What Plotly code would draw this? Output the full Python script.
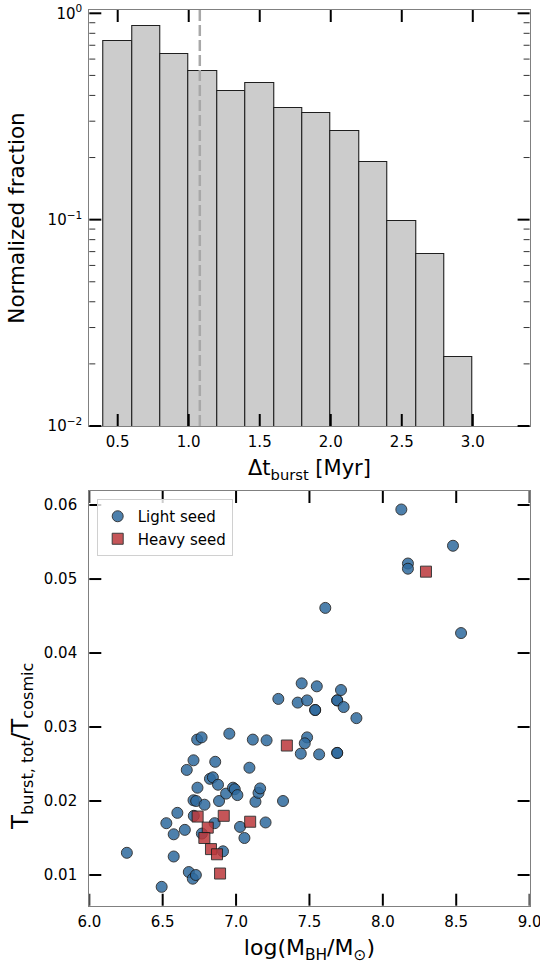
import math
import plotly.graph_objects as go

# ---------------- data ----------------
hist_centers = [0.5, 0.7, 0.9, 1.1, 1.3, 1.5, 1.7, 1.9, 2.1, 2.3, 2.5, 2.7, 2.9]
hist_fraction = [0.737, 0.868, 0.633, 0.527, 0.422, 0.458, 0.349, 0.328,
                 0.269, 0.190, 0.099, 0.068, 0.0217]
bin_width = 0.2
median_dt = 1.078

light_logM = [6.256, 6.493, 6.525, 6.575, 6.575, 6.600, 6.651, 6.664, 6.678, 6.705,
              6.726, 6.710, 6.735, 6.765, 6.710, 6.728, 6.737, 6.712, 6.785, 6.767,
              6.822, 6.842, 6.858, 6.877, 6.884, 6.854, 6.911, 6.932, 6.954, 6.979,
              6.991, 7.009, 7.027, 7.057, 7.091, 7.114, 7.132, 7.153, 7.164, 7.201,
              7.208, 7.288, 7.320, 7.420, 7.447, 7.484, 7.550, 7.539, 7.539, 7.484,
              7.468, 7.441, 7.566, 7.689, 7.689, 7.689, 7.689, 7.715, 7.733, 7.820,
              7.608, 8.126, 8.171, 8.171, 8.478, 8.533]
light_T = [0.0130, 0.0084, 0.0170, 0.0155, 0.0125, 0.0184, 0.0161, 0.0242, 0.0104, 0.0095,
           0.0100, 0.0255, 0.0283, 0.0286, 0.0201, 0.0200, 0.0218, 0.0180, 0.0195, 0.0156,
           0.0230, 0.0232, 0.0253, 0.0222, 0.0200, 0.0170, 0.0132, 0.0210, 0.0291, 0.0218,
           0.0216, 0.0208, 0.0165, 0.0150, 0.0245, 0.0283, 0.0199, 0.0211, 0.0217, 0.0171,
           0.0282, 0.0338, 0.0200, 0.0333, 0.0359, 0.0336, 0.0355, 0.0323, 0.0323, 0.0286,
           0.0278, 0.0264, 0.0263, 0.0265, 0.0265, 0.0336, 0.0336, 0.0350, 0.0327, 0.0312,
           0.0461, 0.0594, 0.0521, 0.0514, 0.0545, 0.0427]

heavy_logM = [6.738, 6.916, 6.807, 6.784, 6.829, 6.870, 7.096, 6.891, 7.346, 8.294]
heavy_T = [0.0179, 0.0180, 0.0164, 0.0150, 0.0135, 0.0128, 0.0172, 0.0102, 0.0275, 0.0510]

top_xticks = [0.5, 1.0, 1.5, 2.0, 2.5, 3.0]
top_yticks = [0.01, 0.1, 1.0]
top_yticktext = ["10<sup>\u22122</sup>", "10<sup>\u22121</sup>", "10<sup>0</sup>"]
top_yminor = [0.02, 0.03, 0.04, 0.05, 0.06, 0.07, 0.08, 0.09,
              0.2, 0.3, 0.4, 0.5, 0.6, 0.7, 0.8, 0.9]
bot_xticks = [6.0, 6.5, 7.0, 7.5, 8.0, 8.5, 9.0]
bot_yticks = [0.01, 0.02, 0.03, 0.04, 0.05, 0.06]

# ---------------- geometry ----------------
W, H = 540, 964
FONT = "DejaVu Sans"
X0, X1 = 89.3, 529.6
TOP_Y0, TOP_Y1 = 10, 426
BOT_Y0, BOT_Y1 = 491, 905.7
xdom = [X0 / W, X1 / W]
top_ydom = [1 - TOP_Y1 / H, 1 - TOP_Y0 / H]
bot_ydom = [1 - BOT_Y1 / H, 1 - BOT_Y0 / H]
top_xrange = [0.3, 3.4]
top_yrange = [-2, 0.016]   # log10 units
bot_xrange = [6.0, 9.0]
bot_yrange = [0.00585, 0.0619]

PLOT_W = X1 - X0
TOP_H = TOP_Y1 - TOP_Y0
BOT_H = BOT_Y1 - BOT_Y0
MAJ_LEN, MAJ_W = 12, 2
MIN_LEN, MIN_W = 6, 1

fig = go.Figure()

fig.add_trace(go.Bar(
    x=hist_centers, y=hist_fraction, width=bin_width,
    marker=dict(color="#cccccc", line=dict(color="#1f1f1f", width=1.1)),
    xaxis="x", yaxis="y", showlegend=False,
))
fig.add_trace(go.Scatter(
    x=light_logM, y=light_T, mode="markers", name="Light seed",
    marker=dict(symbol="circle", size=11, color="rgb(47,106,158)", opacity=0.85,
                line=dict(color="#1a1a1a", width=1)),
    xaxis="x2", yaxis="y2",
))
fig.add_trace(go.Scatter(
    x=heavy_logM, y=heavy_T, mode="markers", name="Heavy seed",
    marker=dict(symbol="square", size=11, color="rgb(188,56,59)", opacity=0.85,
                line=dict(color="#1a1a1a", width=1)),
    xaxis="x2", yaxis="y2",
))

fig.add_shape(type="line", xref="x", yref="y domain", x0=median_dt, x1=median_dt,
              y0=0, y1=1, line=dict(color="#a8a8a8", width=2.5, dash="11px,4px"),
              layer="above")


# ---- inward tick marks on all four sides, drawn as line shapes
def x_ticks(xref, yref_dom, vals, length_frac, width, color="black"):
    for v in vals:
        for a, b in ((0, length_frac), (1, 1 - length_frac)):
            fig.add_shape(type="line", xref=xref, yref=yref_dom, layer="above",
                          x0=v, x1=v, y0=a, y1=b,
                          line=dict(color=color, width=width))


def y_ticks(xref_dom, yref, vals, length_frac, width, color="black"):
    for v in vals:
        for a, b in ((0, length_frac), (1, 1 - length_frac)):
            fig.add_shape(type="line", xref=xref_dom, yref=yref, layer="above",
                          x0=a, x1=b, y0=v, y1=v,
                          line=dict(color=color, width=width))


def log_frac(v):
    return (math.log10(v) - top_yrange[0]) / (top_yrange[1] - top_yrange[0])


x_ticks("x", "y domain", top_xticks, MAJ_LEN / TOP_H, MAJ_W)
y_ticks("x domain", "y domain", [log_frac(v) for v in top_yticks], MAJ_LEN / PLOT_W, MAJ_W)
y_ticks("x domain", "y domain", [log_frac(v) for v in top_yminor], MIN_LEN / PLOT_W, MIN_W,
        "#333333")
x_ticks("x2", "y2 domain", bot_xticks, MAJ_LEN / BOT_H, MAJ_W)
y_ticks("x2 domain", "y2", bot_yticks, MAJ_LEN / PLOT_W, MAJ_W)

main_common = dict(
    showline=True, linecolor="#808080", linewidth=1.2, mirror=True, ticks="",
    showgrid=False, zeroline=False, automargin=False, ticklabeloverflow="allow",
    tickfont=dict(size=15, color="black"),
)

fig.update_layout(
    width=W, height=H,
    margin=dict(l=0, r=0, t=0, b=0),
    paper_bgcolor="white", plot_bgcolor="white",
    font=dict(family=FONT, color="black", size=15),
    bargap=0,
    xaxis=dict(
        domain=xdom, anchor="y", range=top_xrange,
        tickmode="array", tickvals=top_xticks, ticktext=[f"{v:.1f}" for v in top_xticks],
        ticklabelstandoff=2,
        title=dict(text="\u0394t<sub>burst</sub> [Myr]", font=dict(size=21), standoff=10),
        **main_common,
    ),
    yaxis=dict(
        domain=top_ydom, anchor="x", type="log", range=top_yrange,
        tickmode="array", tickvals=top_yticks, ticktext=top_yticktext,
        ticklabelstandoff=3,
        title=dict(text="Normalized fraction", font=dict(size=21.5), standoff=17),
        **main_common,
    ),
    xaxis2=dict(
        domain=xdom, anchor="y2", range=bot_xrange,
        tickmode="array", tickvals=bot_xticks, ticktext=[f"{v:.1f}" for v in bot_xticks],
        ticklabelstandoff=2,
        title=dict(text="log(M<sub>BH</sub>/M<sub>\u2299</sub>)", font=dict(size=22),
                   standoff=14),
        **main_common,
    ),
    yaxis2=dict(
        domain=bot_ydom, anchor="x2", range=bot_yrange,
        tickmode="array", tickvals=bot_yticks, ticktext=[f"{v:.2f}" for v in bot_yticks],
        ticklabelstandoff=8,
        **main_common,
    ),
    legend=dict(
        x=96.7 / W, y=1 - 499 / H, xanchor="left", yanchor="top",
        bgcolor="rgba(255,255,255,0.8)", bordercolor="#d0d0d0", borderwidth=1,
        font=dict(size=15),
    ),
    annotations=[dict(
        text="T<sub>burst, tot</sub>/T<sub>cosmic</sub>", textangle=-90,
        xref="paper", yref="paper", x=22 / W, y=1 - 747 / H,
        xanchor="center", yanchor="middle", showarrow=False,
        font=dict(size=23),
    )],
)

# remove the browser's default 8px page margin so the figure fills the window
fig.write_html("out.html", config={"displayModeBar": False},
               post_script="document.body.style.margin='0px';")
